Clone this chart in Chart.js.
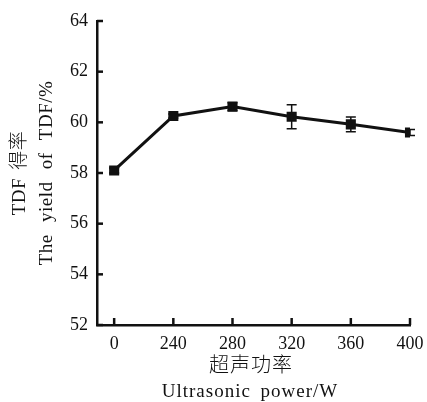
<!DOCTYPE html>
<html>
<head>
<meta charset="utf-8">
<script src="https://cdn.jsdelivr.net/npm/chart.js@4.4.0/dist/chart.umd.min.js"></script>
<style>
  html, body { margin: 0; padding: 0; background: #fff; }
  #wrap { width: 427px; height: 402px; }
</style>
</head>
<body>
<div id="wrap"><canvas id="chart" width="427" height="402"></canvas></div>
<script>
// 데이터
const powers = ['0', '240', '280', '320', '360', '400'];
const yields = [58.1, 60.25, 60.62, 60.22, 59.92, 59.6];
const errors = [0.1, 0.08, 0.15, 0.47, 0.29, 0.12];
const yTitle = ['TDF 得率', 'The yield of TDF/%'];
const xTitle = ['超声功率', 'Ultrasonic power/W'];

const FONT = '"Liberation Serif", "Noto Sans CJK SC", serif';
const INK = '#111';

// error bars + inward ticks + axis titles
const extras = {
  id: 'extras',
  afterDatasetsDraw(chart) {
    const c = chart.ctx;
    const xs = chart.scales.x;
    const ys = chart.scales.y;
    c.save();
    c.strokeStyle = INK;
    c.lineWidth = 1.5;
    yields.forEach((v, i) => {
      const px = xs.getPixelForValue(i);
      const top = ys.getPixelForValue(v + errors[i]);
      const bot = ys.getPixelForValue(v - errors[i]);
      c.beginPath();
      c.moveTo(px, top); c.lineTo(px, bot);
      c.moveTo(px - 5, top); c.lineTo(px + 5, top);
      c.moveTo(px - 5, bot); c.lineTo(px + 5, bot);
      c.stroke();
    });
    c.restore();
  },
  afterDraw(chart) {
    const c = chart.ctx;
    const a = chart.chartArea;
    const xs = chart.scales.x;
    const ys = chart.scales.y;
    c.save();
    c.strokeStyle = INK;
    c.lineWidth = 2.5;
    ys.ticks.forEach(t => {
      const py = ys.getPixelForValue(t.value);
      c.beginPath(); c.moveTo(a.left, py); c.lineTo(a.left + 6, py); c.stroke();
    });
    xs.ticks.forEach(t => {
      const px = xs.getPixelForValue(t.value);
      c.beginPath(); c.moveTo(px, a.bottom); c.lineTo(px, a.bottom - 7); c.stroke();
    });

    c.fillStyle = INK;
    c.textAlign = 'center';
    c.textBaseline = 'middle';
    c.font = '300 20px ' + FONT;
    c.letterSpacing = '1px';
    c.fillText(xTitle[0], 251, 367);
    c.font = '19px ' + FONT;
    c.letterSpacing = '1px';
    c.wordSpacing = '4px';
    c.fillText(xTitle[1], 250, 392);

    const cy = (a.top + a.bottom) / 2;
    c.translate(20, cy);
    c.rotate(-Math.PI / 2);
    c.font = '300 19px ' + FONT;
    c.letterSpacing = '0.5px';
    c.wordSpacing = '3px';
    c.fillText(yTitle[0], 0, 0);
    c.wordSpacing = '7px';
    c.fillText(yTitle[1], 0, 27);
    c.restore();
  }
};

const ctx = document.getElementById('chart').getContext('2d');
const chart = new Chart(ctx, {
  type: 'line',
  data: {
    datasets: [{
      data: yields.map((v, i) => ({ x: i, y: v })),
      borderColor: INK,
      backgroundColor: INK,
      borderWidth: 3,
      pointStyle: 'rect',
      pointRadius: 5,
      pointHoverRadius: 5,
      tension: 0,
    }],
  },
  options: {
    responsive: false,
    animation: false,
    layout: { padding: { left: 0, top: 21, right: 17, bottom: 0 } },
    plugins: { legend: { display: false }, tooltip: { enabled: false } },
    scales: {
      x: {
        type: 'linear',
        min: -0.29,
        max: 5,
        afterBuildTicks: s => { s.ticks = powers.map((_, i) => ({ value: i })); },
        afterFit: s => { s.height = 77; s.paddingLeft = 0; s.paddingRight = 0; },
        grid: { display: false, drawTicks: false },
        border: { display: true, color: INK, width: 2.5 },
        ticks: {
          callback: v => powers[v],
          color: INK,
          font: { family: FONT, size: 18 },
          padding: 8,
          maxRotation: 0,
          autoSkip: false,
        },
      },
      y: {
        min: 52,
        max: 64,
        afterFit: s => { s.width = 97; },
        grid: { display: false, drawTicks: false },
        border: { display: true, color: INK, width: 2.5 },
        ticks: {
          stepSize: 2,
          color: INK,
          font: { family: FONT, size: 18 },
          padding: 9,
        },
      },
    },
  },
  plugins: [extras],
});
</script>
</body>
</html>
